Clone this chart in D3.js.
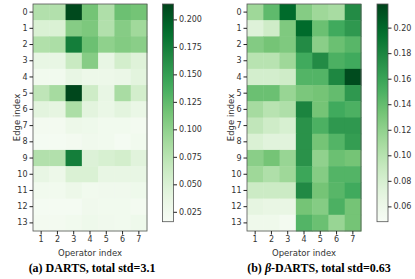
<!DOCTYPE html>
<html>
<head>
<meta charset="utf-8">
<script src="https://cdn.jsdelivr.net/npm/d3@7"></script>
<style>
  body { margin: 0; background: #fff; }
  svg { display: block; }
  .tick text { font-family: "DejaVu Sans", sans-serif; font-size: 8px; fill: #333; }
  .lbl { font-family: "DejaVu Sans", sans-serif; font-size: 8.5px; fill: #333; }
  .cap { font-family: "Liberation Serif", "Times New Roman", serif; font-size: 12px; font-weight: bold; fill: #000; }
</style>
</head>
<body>
<svg width="415" height="279"></svg>
<script>
// edge index rows 0..13, operator index columns 1..7
const edges = d3.range(14);
const operators = [1, 2, 3, 4, 5, 6, 7];

const dartsValues = [
  [0.079, 0.079, 0.211, 0.115, 0.081, 0.119, 0.115],
  [0.050, 0.050, 0.105, 0.110, 0.079, 0.105, 0.090],
  [0.080, 0.083, 0.175, 0.119, 0.100, 0.107, 0.103],
  [0.036, 0.036, 0.064, 0.105, 0.036, 0.056, 0.046],
  [0.024, 0.024, 0.036, 0.030, 0.030, 0.032, 0.042],
  [0.071, 0.087, 0.212, 0.060, 0.036, 0.085, 0.056],
  [0.042, 0.040, 0.083, 0.042, 0.034, 0.042, 0.034],
  [0.022, 0.022, 0.030, 0.028, 0.024, 0.024, 0.022],
  [0.020, 0.020, 0.022, 0.026, 0.024, 0.020, 0.024],
  [0.079, 0.079, 0.175, 0.048, 0.052, 0.056, 0.044],
  [0.036, 0.030, 0.050, 0.050, 0.036, 0.036, 0.036],
  [0.024, 0.024, 0.030, 0.024, 0.026, 0.026, 0.028],
  [0.020, 0.020, 0.020, 0.026, 0.024, 0.024, 0.022],
  [0.022, 0.022, 0.024, 0.028, 0.026, 0.024, 0.028]
];

const betaValues = [
  [0.113, 0.142, 0.198, 0.125, 0.113, 0.108, 0.176],
  [0.074, 0.085, 0.128, 0.198, 0.137, 0.155, 0.167],
  [0.126, 0.133, 0.128, 0.176, 0.123, 0.137, 0.145],
  [0.099, 0.099, 0.113, 0.155, 0.176, 0.150, 0.155],
  [0.082, 0.082, 0.085, 0.147, 0.147, 0.179, 0.215],
  [0.137, 0.137, 0.116, 0.130, 0.133, 0.140, 0.167],
  [0.109, 0.099, 0.104, 0.181, 0.133, 0.155, 0.150],
  [0.094, 0.085, 0.079, 0.171, 0.150, 0.167, 0.167],
  [0.077, 0.072, 0.072, 0.171, 0.133, 0.147, 0.164],
  [0.123, 0.133, 0.116, 0.171, 0.120, 0.137, 0.133],
  [0.113, 0.104, 0.113, 0.158, 0.125, 0.147, 0.147],
  [0.087, 0.087, 0.087, 0.177, 0.133, 0.145, 0.155],
  [0.068, 0.065, 0.065, 0.133, 0.125, 0.150, 0.133],
  [0.058, 0.058, 0.053, 0.147, 0.137, 0.116, 0.133]
];

const dartsRange = [0.016, 0.214];
const betaRange = [0.048, 0.2185];
const dartsTicks = [0.025, 0.050, 0.075, 0.100, 0.125, 0.150, 0.175, 0.200];
const betaTicks = [0.06, 0.08, 0.10, 0.12, 0.14, 0.16, 0.18, 0.20];

// matplotlib "Greens"
const greens = ['#f7fcf5', '#e5f5e0', '#c7e9c0', '#a1d99b', '#74c476', '#41ab5d', '#238b45', '#006d2c', '#00441b'];

const svg = d3.select('svg');

function drawPanel(opts) {
  const g = svg.append('g');
  const x = d3.scaleBand().domain(operators).range([opts.x0, opts.x0 + 114]);
  const y = d3.scaleBand().domain(edges).range([4, 231]);
  const t = d3.scaleLinear().domain(opts.range).range([0, 1]).clamp(true);
  const cmap = d3.scaleLinear().domain(d3.range(9).map(i => i / 8)).range(greens);
  const color = v => cmap(t(v));

  const cells = [];
  opts.values.forEach((row, i) => row.forEach((v, j) => cells.push({ e: i, o: operators[j], v })));

  g.selectAll('rect.cell')
    .data(cells)
    .enter()
    .append('rect')
    .attr('x', d => x(d.o))
    .attr('y', d => y(d.e))
    .attr('width', x.bandwidth() + 0.5)
    .attr('height', y.bandwidth() + 0.5)
    .attr('fill', d => color(d.v));

  g.append('rect')
    .attr('x', opts.x0).attr('y', 4)
    .attr('width', 114).attr('height', 227)
    .attr('fill', 'none').attr('stroke', '#555').attr('stroke-width', 0.8);

  g.append('g')
    .attr('transform', `translate(${opts.x0},0)`)
    .call(d3.axisLeft(y).tickSize(3.5).tickPadding(2))
    .call(a => a.select('.domain').remove())
    .call(a => a.selectAll('line').attr('stroke', '#222'));

  g.append('g')
    .attr('transform', 'translate(0,231)')
    .call(d3.axisBottom(x).tickSize(3.5).tickPadding(2))
    .call(a => a.select('.domain').remove())
    .call(a => a.selectAll('line').attr('stroke', '#222'));

  g.append('text')
    .attr('class', 'lbl')
    .attr('transform', `translate(${opts.x0 - 13},117.5) rotate(-90)`)
    .attr('text-anchor', 'middle')
    .text('Edge index');

  g.append('text')
    .attr('class', 'lbl')
    .attr('x', opts.x0 + 57).attr('y', 256)
    .attr('text-anchor', 'middle')
    .text('Operator index');

  // colorbar
  const cb = d3.scaleLinear().domain(opts.range).range([221.7, 4]);
  const gradId = 'grad' + opts.id;
  const grad = svg.append('defs').append('linearGradient')
    .attr('id', gradId)
    .attr('x1', 0).attr('y1', 1).attr('x2', 0).attr('y2', 0);
  d3.range(0, 1.0001, 0.05).forEach(s => {
    grad.append('stop').attr('offset', s).attr('stop-color', cmap(s));
  });
  g.append('rect')
    .attr('x', opts.cbx).attr('y', 4)
    .attr('width', 11).attr('height', 217.7)
    .attr('fill', `url(#${gradId})`)
    .attr('stroke', '#555').attr('stroke-width', 0.8);

  g.append('g')
    .attr('transform', `translate(${opts.cbx + 11},0)`)
    .call(d3.axisRight(cb).tickValues(opts.ticks).tickFormat(d3.format(opts.fmt)).tickSize(3.5).tickPadding(2))
    .call(a => a.select('.domain').remove())
    .call(a => a.selectAll('line').attr('stroke', '#222'));

  svg.append('text')
    .attr('class', 'cap')
    .attr('x', opts.capx).attr('y', 272)
    .attr('text-anchor', 'middle')
    .html(opts.caption);
}

drawPanel({
  id: 'a', x0: 33, cbx: 162.5, values: dartsValues, range: dartsRange,
  ticks: dartsTicks, fmt: '.3f', capx: 92,
  caption: '(a) DARTS, total std=3.1'
});

drawPanel({
  id: 'b', x0: 247, cbx: 377, values: betaValues, range: betaRange,
  ticks: betaTicks, fmt: '.2f', capx: 319,
  caption: '(b) <tspan font-style="italic">β</tspan>-DARTS, total std=0.63'
});
</script>
</body>
</html>
